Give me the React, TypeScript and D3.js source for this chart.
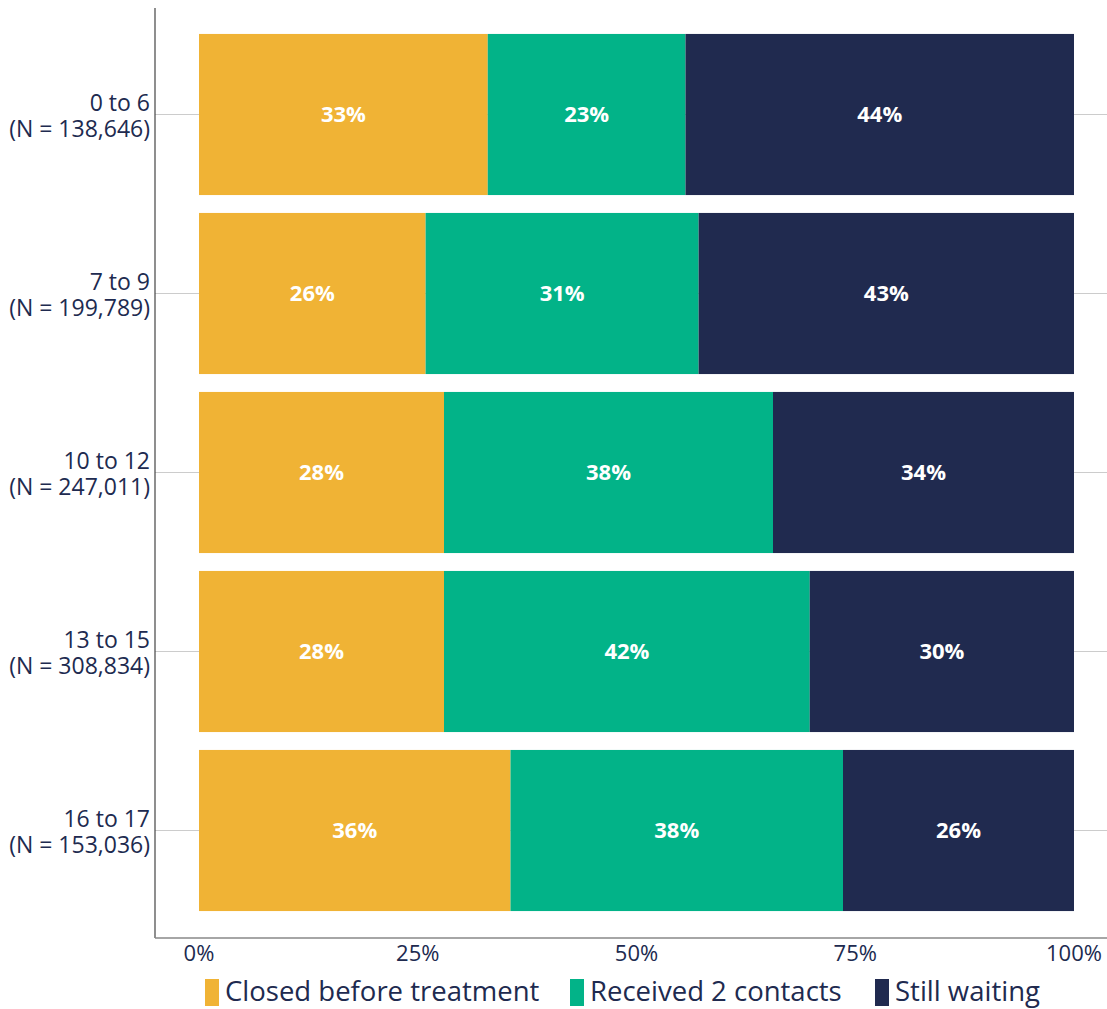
import React from "react";
import * as d3 from "d3";

const categories = ["0 to 6", "7 to 9", "10 to 12", "13 to 15", "16 to 17"];
const counts = ["138,646", "199,789", "247,011", "308,834", "153,036"];
const seriesNames = ["Closed before treatment", "Received 2 contacts", "Still waiting"];
const closedBefore = [33.0, 25.9, 28.0, 28.0, 35.6];
const received2 = [22.6, 31.2, 37.6, 41.8, 38.0];
const stillWaiting = [44.4, 42.9, 34.4, 30.2, 26.4];
const xTicks = [0, 25, 50, 75, 100];
const colors = ["#F0B335", "#02B388", "#202A4F"];

const W = 1107;
const H = 1009;
const FONT = "'Open Sans', Lato, sans-serif";
const NAVY = "#202A4F";

export default function App() {
  const x = d3.scaleLinear().domain([0, 100]).range([199, 1074]);
  const y = d3.scaleBand<string>().domain(categories).range([25, 920]).paddingInner(0.1).paddingOuter(0.05);
  const series = [closedBefore, received2, stillWaiting];
  const rows = categories.map((c, i) => {
    const vals = series.map((s) => s[i]);
    const cum = d3.cumsum(vals);
    return vals.map((v, k) => ({ cat: c, k, v, x0: cum[k] - v, x1: cum[k] }));
  });
  const axisX0 = 155;
  const axisY = 938;

  return (
    <svg width={W} height={H} style={{ position: "absolute", left: 0, top: 0 }} fontFamily={FONT}>
      {categories.map((c) => {
        const cy = (y(c) as number) + y.bandwidth() / 2;
        return <line key={"g" + c} x1={axisX0} x2={W} y1={cy} y2={cy} stroke="#CCCCCC" strokeWidth={1} />;
      })}
      {rows.map((segs) =>
        segs.map((s) => (
          <rect
            key={s.cat + s.k}
            x={x(s.x0)}
            y={y(s.cat)}
            width={x(s.x1) - x(s.x0)}
            height={y.bandwidth()}
            fill={colors[s.k]}
          />
        ))
      )}
      {rows.map((segs) =>
        segs.map((s) => (
          <text
            key={"t" + s.cat + s.k}
            x={(x(s.x0) + x(s.x1)) / 2}
            y={(y(s.cat) as number) + y.bandwidth() / 2}
            dy="0.36em"
            textAnchor="middle"
            fill="#FFFFFF"
            fontWeight={700}
            fontSize={22}
          >
            {Math.round(s.v) + "%"}
          </text>
        ))
      )}
      <line x1={axisX0} x2={axisX0} y1={8} y2={axisY} stroke="#444444" strokeWidth={1.2} />
      <line x1={axisX0} x2={W} y1={axisY} y2={axisY} stroke="#888888" strokeWidth={1.5} />
      {categories.map((c, i) => {
        const cy = (y(c) as number) + y.bandwidth() / 2;
        return (
          <text key={"c" + c} textAnchor="end" fill={NAVY} fontSize={23}>
            <tspan x={150} y={cy - 4}>{c}</tspan>
            <tspan x={150} y={cy + 22}>{"(N = " + counts[i] + ")"}</tspan>
          </text>
        );
      })}
      {xTicks.map((t) => (
        <text key={"x" + t} x={x(t)} y={961} textAnchor="middle" fill={NAVY} fontSize={22}>
          {t + "%"}
        </text>
      ))}
      {(() => {
        const starts = [205, 570, 875];
        return seriesNames.map((n, k) => (
          <g key={"l" + k}>
            <rect x={starts[k]} y={979} width={14} height={27} fill={colors[k]} />
            <text x={starts[k] + 20} y={1001} fill={NAVY} fontSize={27.5}>
              {n}
            </text>
          </g>
        ));
      })()}
    </svg>
  );
}
